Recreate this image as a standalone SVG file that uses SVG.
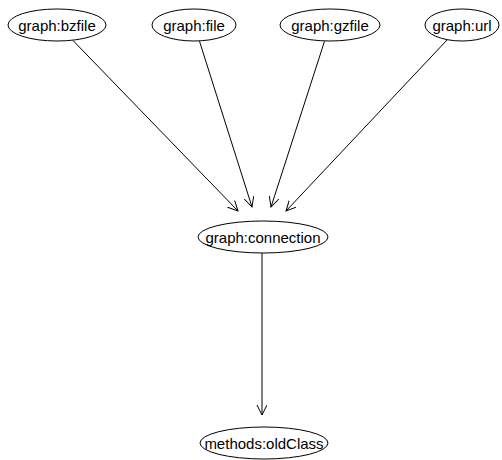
<svg xmlns="http://www.w3.org/2000/svg" width="502" height="460" viewBox="0 0 502 460">
<defs>
<style>
.n ellipse{fill:#fff;stroke:#000;stroke-width:1}
.n text{font-family:"Liberation Sans",Arial,sans-serif;font-size:15px;text-anchor:middle;fill:#000}
.e line{stroke:#000;stroke-width:1;marker-end:url(#ah)}
</style>
<marker id="ah" markerWidth="12" markerHeight="12" refX="10" refY="5" orient="auto" markerUnits="userSpaceOnUse"><path d="M0,0 L10,5 L0,10" fill="none" stroke="#000" stroke-width="1"/></marker>
</defs>
<rect width="502" height="460" fill="#fff"/>
<g id="edges" class="e">
<line x1="73" y1="40.5" x2="238" y2="211"/>
<line x1="199.5" y1="41.3" x2="252" y2="207"/>
<line x1="324.5" y1="41.3" x2="271" y2="207"/>
<line x1="447" y1="40" x2="286" y2="211"/>
<line x1="262" y1="253" x2="262" y2="415"/>
</g>
<g id="bzfile" class="n"><ellipse cx="57" cy="25" rx="49" ry="16"/><text x="57" y="30.5">graph:bzfile</text></g>
<g id="file" class="n"><ellipse cx="194" cy="25" rx="42" ry="16"/><text x="194" y="30.5">graph:file</text></g>
<g id="gzfile" class="n"><ellipse cx="330" cy="25" rx="50" ry="16"/><text x="330" y="30.5">graph:gzfile</text></g>
<g id="url" class="n"><ellipse cx="462" cy="25" rx="37" ry="16"/><text x="462" y="30.5">graph:url</text></g>
<g id="connection" class="n"><ellipse cx="263" cy="237" rx="65" ry="16"/><text x="263" y="242.5">graph:connection</text></g>
<g id="oldClass" class="n"><ellipse cx="264" cy="443" rx="64" ry="16"/><text x="264" y="448.5">methods:oldClass</text></g>
</svg>
